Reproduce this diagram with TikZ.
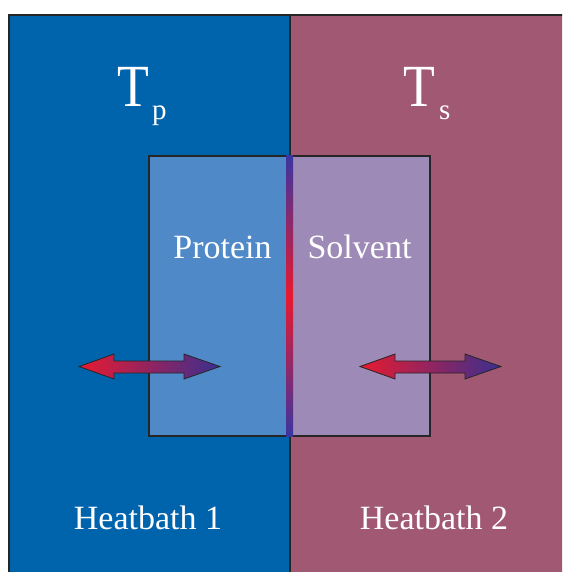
\documentclass[tikz,border=0pt]{standalone}
\usepackage{fontspec}
\setmainfont{Liberation Serif}

\definecolor{bathone}{HTML}{0064AD}
\definecolor{bathtwo}{HTML}{A05873}
\definecolor{protfill}{HTML}{4F89C8}
\definecolor{solvfill}{HTML}{9E8AB6}
\definecolor{edge}{HTML}{262626}
\definecolor{hotred}{HTML}{E81A30}
\definecolor{coolblue}{HTML}{3A2F90}
\definecolor{barblue}{HTML}{3B35A0}

\tikzset{
  wall/.style={draw=edge, line width=2pt},
  boxwall/.style={draw=edge, line width=2.4pt},
  label/.style={text=white, inner sep=0pt, anchor=base},
  bigsym/.style={text=white, inner sep=0pt, anchor=base west, font=\fontsize{52}{52}\selectfont},
  subsym/.style={text=white, inner sep=0pt, anchor=base west, font=\fontsize{29}{29}\selectfont},
  heatflow/.style={left color=hotred, right color=coolblue},
  heatedge/.style={draw=edge, line width=0.8pt, line join=miter}
}

\begin{document}
\begin{tikzpicture}[x=1pt, y=-1pt]
  \useasboundingbox (0,0) rectangle (562,572);
  \clip (0,0) rectangle (562,572);
  \fill[white] (0,0) rectangle (562,572);

  % the two heat baths
  \fill[bathone] (9,15) rectangle (290,600);
  \fill[bathtwo] (290,15) rectangle (600,600);
  \draw[wall] (9,600) -- (9,15) -- (600,15);
  \draw[wall] (290,15) -- (290,600);

  % protein and solvent compartments
  \fill[protfill] (149,156) rectangle (289.5,436);
  \fill[solvfill] (289.5,156) rectangle (430,436);
  \draw[boxwall] (149,156) rectangle (430,436);

  % interface between protein and solvent
  \shade[top color=barblue, bottom color=barblue, middle color=hotred]
    (286,156) rectangle (293,436);

  % heat exchange arrows
  \foreach \dx in {0, 281}{
    \begin{scope}[xshift=\dx pt]
      \shade[heatflow] (79,366.5) -- (114,354) -- (114,361) -- (184,361) -- (184,354)
        -- (220,366.5) -- (184,379) -- (184,373) -- (114,373) -- (114,379) -- cycle;
      \draw[heatedge] (79,366.5) -- (114,354) -- (114,361) -- (184,361) -- (184,354)
        -- (220,366.5) -- (184,379) -- (184,373) -- (114,373) -- (114,379) -- cycle;
    \end{scope}
  }

  % temperatures
  \node[bigsym] (tp) at (117,107) {\scalebox{1}[1.15]{T}};
  \node[subsym] (tpsub) at (152,120) {p};
  \node[bigsym] (ts) at (403,107) {\scalebox{1}[1.15]{T}};
  \node[subsym] (tssub) at (439,120) {s};

  % compartment labels
  \node[label, font=\fontsize{34}{34}\selectfont] (prot) at (222.5,258) {Protein};
  \node[label, font=\fontsize{34}{34}\selectfont] (solv) at (359.5,258) {Solvent};

  % bath labels
  \node[label, font=\fontsize{34}{34}\selectfont] (hb1) at (148,529) {Heatbath 1};
  \node[label, font=\fontsize{34}{34}\selectfont] (hb2) at (434,529) {Heatbath 2};
\end{tikzpicture}
\end{document}
